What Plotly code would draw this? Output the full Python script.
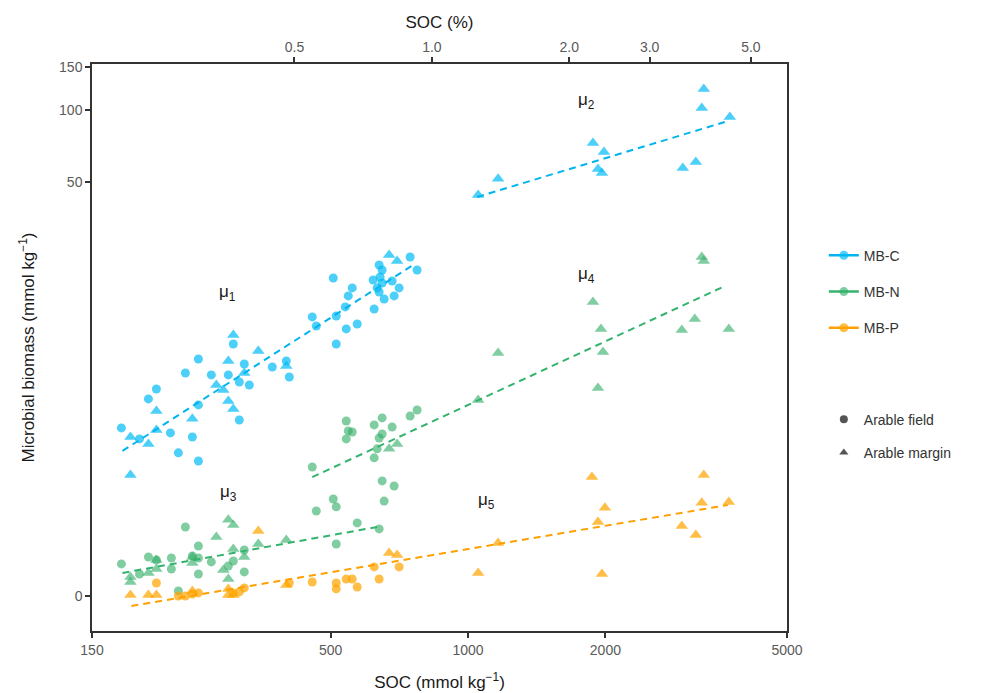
import numpy as np
import plotly.graph_objects as go

# ---------------- data (SOC in mmol/kg, biomass in mmol/kg) ----------------
# y axis uses a log1p scale: log10(value + 1)

# MB-C
mbc_field_soc = [174.0, 190.6, 199.4, 207.6, 222.8, 231.9, 240.3, 248.9, 256.6, 256.6, 256.6,
                 273.9, 298.4, 306.0, 315.4, 315.4, 323.4, 331.7, 372.5, 399.8, 405.9, 455.8,
                 465.1, 506.7, 514.4, 514.4, 541.0, 546.5, 557.6, 571.8, 538.3, 622.8, 619.6,
                 638.7, 648.4, 641.9, 648.4, 632.3, 638.7, 655.0, 681.9, 688.8, 706.4, 746.7, 773.4]
mbc_field_val = [3.93, 3.44, 5.49, 6.13, 3.70, 2.89, 7.30, 3.52, 8.48, 5.13, 2.60,
                 7.15, 7.15, 9.93, 6.62, 4.31, 8.04, 6.41, 7.79, 8.30, 6.99, 13.13,
                 11.97, 19.46, 13.26, 9.93, 11.61, 16.25, 17.61, 12.22, 14.54, 14.24, 19.07,
                 22.14, 21.07, 19.65, 18.51, 17.61, 16.91, 15.76, 18.88, 16.25, 17.61, 23.96, 21.07]
mbc_margin_soc = [182.1, 182.1, 199.4, 207.6, 207.6, 248.9, 280.9, 290.9, 298.4, 306.0, 298.4,
                  306.0, 323.4, 347.1, 399.8, 671.7, 699.3,
                  1052.4, 1163.9, 1878.5, 1985.6, 1926.5, 1965.7, 2955.6, 3155.9, 3252.6, 3285.6, 3746.7]
mbc_margin_val = [3.52, 2.15, 3.23, 4.79, 3.83, 4.37, 6.41, 6.07, 5.36, 4.90, 8.30,
                  10.91, 7.30, 9.23, 7.87, 24.44, 23.03,
                  44.0, 51.4, 72.7, 66.6, 56.6, 54.4, 57.1, 60.5, 101.7, 122.0, 93.3]

# MB-N
mbn_field_soc = [174.0, 190.6, 199.4, 207.6, 223.9, 223.9, 231.9, 240.3, 248.9, 256.6, 256.6,
                 256.6, 273.9, 298.4, 306.0, 323.4, 323.4, 465.1, 506.7, 514.4, 514.4, 571.8,
                 638.7, 455.8, 541.0, 546.5, 557.6, 541.0, 622.8, 648.4, 648.4, 638.7, 681.9,
                 632.3, 622.8, 746.7, 773.4, 648.4, 688.8, 655.0]
mbn_field_val = [0.355, 0.232, 0.448, 0.407, 0.434, 0.292, 0.049, 0.925, 0.462, 0.607, 0.434,
                 0.232, 0.381, 0.329, 0.394, 0.547, 0.256, 1.24, 1.51, 1.33, 0.638, 1.00,
                 0.889, 2.40, 4.26, 3.79, 3.74, 3.44, 4.07, 4.42, 3.65, 3.48, 3.97,
                 3.04, 2.71, 4.52, 4.84, 1.98, 1.84, 1.46]
mbn_margin_soc = [182.1, 182.1, 199.4, 207.6, 207.6, 248.9, 248.9, 280.9, 298.4, 306.0, 290.9,
                  298.4, 306.0, 323.4, 347.1, 399.8, 671.7, 699.3,
                  1052.4, 1163.9, 1878.5, 1955.8, 1975.6, 1926.5, 2940.8, 3140.0, 3252.6, 3285.6, 3728.0]
mbn_margin_val = [0.198, 0.142, 0.244, 0.292, 0.407, 0.368, 0.448, 0.751, 1.06, 0.962, 0.280,
                  0.175, 0.562, 0.448, 0.638, 0.701, 3.04, 3.23,
                  5.43, 9.04, 15.29, 11.61, 9.13, 6.20, 11.49, 12.86, 23.96, 23.03, 11.61]

# MB-P
mbp_field_soc = [207.6, 231.9, 240.3, 248.9, 256.6, 306.0, 315.4, 323.4, 405.9, 455.8, 514.4,
                 514.4, 541.0, 557.6, 571.8, 622.8, 638.7, 706.4]
mbp_field_val = [0.131, 0.0, 0.0, 0.019, 0.029, 0.029, 0.039, 0.079, 0.131, 0.142, 0.131,
                 0.069, 0.175, 0.175, 0.089, 0.317, 0.175, 0.317]
mbp_margin_soc = [182.1, 199.4, 207.6, 248.9, 298.4, 298.4, 306.0, 347.1, 399.8, 671.7, 699.3,
                  1052.4, 1163.9, 1869.0, 1995.6, 1926.5, 1965.7, 2940.8, 3155.9, 3285.6, 3252.6, 3728.0]
mbp_margin_val = [0.010, 0.010, 0.010, 0.049, 0.069, 0.010, 0.010, 0.853, 0.110, 0.504, 0.476,
                  0.244, 0.654, 2.09, 1.31, 1.02, 0.232, 0.943, 0.784, 2.15, 1.42, 1.44]

# fitted segments (end points)
fit_mu1_soc, fit_mu1_val = [174.9, 758.0], [2.96, 22.14]
fit_mu2_soc, fit_mu2_val = [1047.1, 3653.0], [43.1, 88.9]
fit_mu3_soc, fit_mu3_val = [174.9, 632.3], [0.244, 0.925]
fit_mu4_soc, fit_mu4_val = [455.8, 3616.8], [2.09, 17.78]
fit_mu5_soc, fit_mu5_val = [183.0, 3709.0], [-0.091, 1.37]

series_names = ["MB-C", "MB-N", "MB-P"]
line_colors = ["#00B4F0", "#34B36C", "#FFA000"]
point_colors = ["rgba(0,186,245,0.70)", "rgba(52,175,105,0.62)", "rgba(255,165,0,0.72)"]

x_ticks = [150, 500, 1000, 2000, 5000]
top_ticks_pct = [0.5, 1.0, 2.0, 3.0, 5.0]
y_ticks = [0, 50, 100, 150]
y_limits = [-0.283, 154.9]

mu_labels = ["μ<sub>1</sub>", "μ<sub>2</sub>", "μ<sub>3</sub>", "μ<sub>4</sub>", "μ<sub>5</sub>"]
mu_pos = [(0.195, 0.596), (0.711, 0.934), (0.196, 0.243), (0.711, 0.628), (0.567, 0.229)]


def T(v):
    return np.log10(np.asarray(v, dtype=float) + 1.0)


FONT = "Liberation Sans, Arial, Helvetica, sans-serif"
fig = go.Figure()

groups = [
    (mbc_field_soc, mbc_field_val, mbc_margin_soc, mbc_margin_val),
    (mbn_field_soc, mbn_field_val, mbn_margin_soc, mbn_margin_val),
    (mbp_field_soc, mbp_field_val, mbp_margin_soc, mbp_margin_val),
]
for i, (fs, fv, ms, mv) in enumerate(groups):
    fig.add_trace(go.Scatter(x=fs, y=T(fv), mode="markers", showlegend=False,
                             marker=dict(symbol="circle", size=9, color=point_colors[i],
                                         line=dict(width=0))))
    fig.add_trace(go.Scatter(x=ms, y=T(mv), mode="markers", showlegend=False,
                             marker=dict(symbol="triangle-up", size=11, color=point_colors[i],
                                         line=dict(width=0))))

fits = [(fit_mu1_soc, fit_mu1_val, 0), (fit_mu2_soc, fit_mu2_val, 0),
        (fit_mu3_soc, fit_mu3_val, 1), (fit_mu4_soc, fit_mu4_val, 1),
        (fit_mu5_soc, fit_mu5_val, 2)]
for s, v, ci in fits:
    fig.add_trace(go.Scatter(x=s, y=T(v), mode="lines", showlegend=False,
                             line=dict(color=line_colors[ci], width=2, dash="7px,5px")))

# legend entries
for i, name in enumerate(series_names):
    fig.add_trace(go.Scatter(x=[None], y=[None], mode="lines+markers", name=name,
                             legend="legend", legendgroup=name,
                             line=dict(color=line_colors[i], width=2.5),
                             marker=dict(symbol="circle", size=9, color=point_colors[i])))
for name, sym in [("Arable field", "circle"), ("Arable margin", "triangle-up")]:
    fig.add_trace(go.Scatter(x=[None], y=[None], mode="markers", name=name,
                             legend="legend2", legendgroup=name,
                             marker=dict(symbol=sym, size=8, color="#555555")))

# dummy trace for the top axis
fig.add_trace(go.Scatter(x=[None], y=[None], xaxis="x2", showlegend=False, hoverinfo="skip"))

for (xp, yp), txt in zip(mu_pos, mu_labels):
    fig.add_annotation(x=xp, y=yp, xref="paper", yref="paper", text=txt, showarrow=False,
                       xanchor="center", yanchor="middle",
                       font=dict(size=17, color="#1a1a1a", family=FONT))

axis_common = dict(showgrid=False, zeroline=False, showline=True, linecolor="#333333",
                   linewidth=1.5, ticks="outside", ticklen=5, tickwidth=1.5, tickcolor="#333333",
                   automargin=False,
                   tickfont=dict(size=14, color="#5a5a5a", family=FONT))

fig.update_layout(
    width=987, height=693,
    margin=dict(l=92, r=200, t=64, b=62),
    paper_bgcolor="white", plot_bgcolor="white",
    font=dict(family=FONT),
    xaxis=dict(type="log", range=[np.log10(150), np.log10(5000)], tickvals=x_ticks,
               ticktext=[str(t) for t in x_ticks], mirror=True,
               title=dict(text="SOC (mmol kg<sup>−1</sup>)", font=dict(size=17, color="#1a1a1a"),
                          standoff=20), **axis_common),
    xaxis2=dict(type="log", range=[np.log10(150), np.log10(5000)], overlaying="x", side="top",
                anchor="y",
                tickvals=[p * 10000 / 12 for p in top_ticks_pct],
                ticktext=[f"{p:.1f}" for p in top_ticks_pct],
                title=dict(text="SOC (%)", font=dict(size=17, color="#1a1a1a"), standoff=6),
                **axis_common),
    yaxis=dict(range=[float(T(y_limits[0])), float(T(y_limits[1]))], tickvals=T(y_ticks).tolist(),
               ticktext=[str(t) for t in y_ticks], mirror=True,
               title=dict(text="Microbial biomass (mmol kg<sup>−1</sup>)",
                          font=dict(size=17, color="#1a1a1a"), standoff=20),
               **axis_common),
    legend=dict(x=1.053, y=0.69, xanchor="left", yanchor="top", bgcolor="rgba(0,0,0,0)",
                font=dict(size=14, color="#333333", family=FONT), tracegroupgap=15,
                itemwidth=30),
    legend2=dict(x=1.053, y=0.401, xanchor="left", yanchor="top", bgcolor="rgba(0,0,0,0)",
                 font=dict(size=14, color="#333333", family=FONT), tracegroupgap=12,
                 itemwidth=30),
)

fig.write_html("out.html", config={"displayModeBar": False},
               post_script="document.body.style.margin='0px';")
